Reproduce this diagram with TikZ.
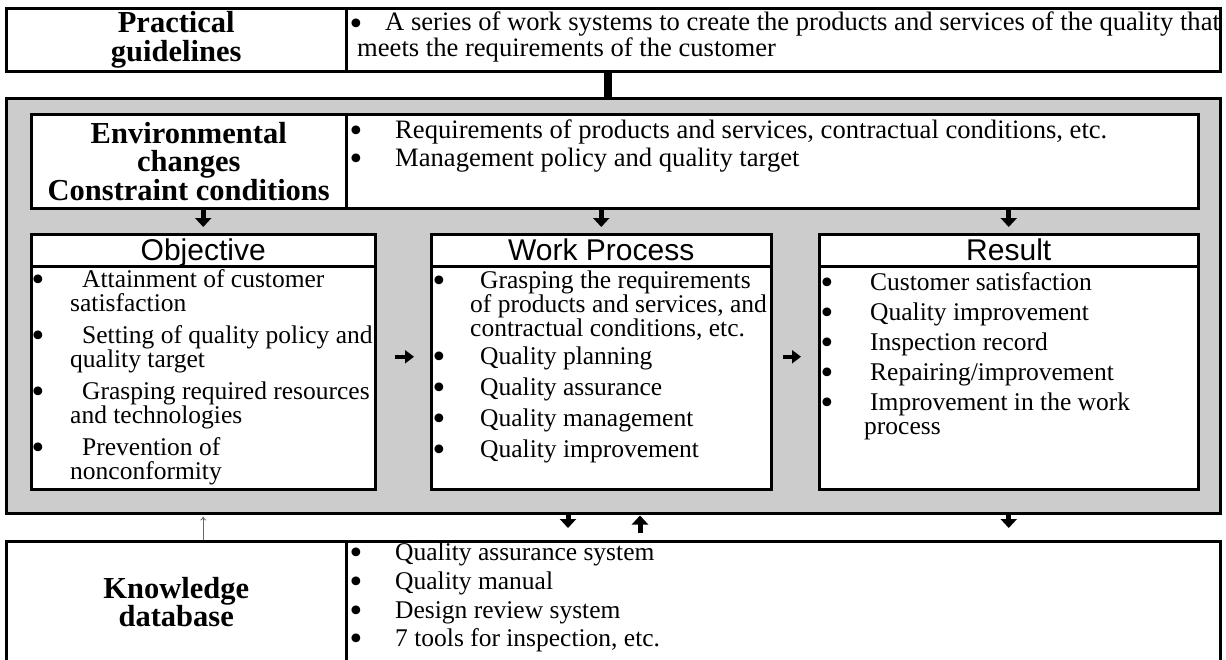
\documentclass[tikz,border=0pt]{standalone}
\usepackage{fontspec}
\setmainfont{Liberation Serif}
\setsansfont{Liberation Sans}
\newfontfamily\dejavu{DejaVu Sans}
\usetikzlibrary{arrows.meta, positioning, calc}

\begin{document}
\begin{tikzpicture}[x=1pt,y=-1pt,
  cell/.style args={#1x#2}{draw,line width=2.5pt,inner sep=0pt,
            minimum width=#1pt,minimum height=#2pt,anchor=north west},
  hd/.style={align=center,font=\fontsize{30.5}{28.5}\selectfont\bfseries},
  ttl/.style={font=\fontsize{30}{30}\selectfont\sffamily,
            text height=21pt,text depth=0pt},
  tx/.style={anchor=base west,inner sep=0pt,align=left,
            font=\fontsize{25.5}{24}\selectfont},
  big/.style={font=\fontsize{26.6}{26}\selectfont},
  bu/.style={anchor=base,inner sep=0pt,yshift=-3pt,
            font=\fontsize{30}{30}\dejavu},
  dn/.style={line width=5pt,-{Triangle[width=16pt,length=9pt]},
            shorten >=6pt},
  rt/.style={line width=3.5pt,-{Triangle[width=13pt,length=9pt]}},
  thn/.style={line width=0.8pt,black!60,-{To[length=4pt,width=6pt]}}
]
\useasboundingbox (0,0) rectangle (1226,659);

% practical guidelines
\node[cell=340x63,hd] (pgL) at (5,7) {Practical\\guidelines};
\node[cell=874x63] (pgR) at (345,7) {};
\node[bu] (pgd) at (356,31) {\textbullet};
\node[tx,big] (pgt) at (357,56)
      {\hspace*{28pt}A series of work systems to create the products and services of the quality that\\meets the requirements of the customer};

% grey frame
\node[cell=1214x415,fill=black!20] (pan) at (5,97) {};
\coordinate (bx) at (608,0);
\draw[line width=8pt] (pgR.south -| bx) -- (pan.north -| bx);

% environment / constraints
\node[cell=315x94,fill=white,hd] (envL) at (30,113)
      {Environmental\\changes\\Constraint conditions};
\node[cell=852x94,fill=white] (envR) at (345,113) {};
\node[bu] (e1d) at (356,138) {\textbullet};
\node[tx,big] (e1) at (395,138)
      {Requirements of products and services, contractual conditions, etc.};
\node[bu] (e2d) at (356,166) {\textbullet};
\node[tx,big] (e2) at (395,166) {Management policy and quality target};

% three columns
\node[cell=344x32,fill=white,ttl] (objT) at (30,233) {Objective};
\node[cell=344x223,fill=white] (objB) at (30,265) {};
\node[cell=340x32,fill=white,ttl] (wpT) at (430,233) {Work Process};
\node[cell=340x223,fill=white] (wpB) at (430,265) {};
\node[cell=379x32,fill=white,ttl] (resT) at (818,233) {Result};
\node[cell=379x223,fill=white] (resB) at (818,265) {};

% objective (base = last line)
\node[bu] (o1d) at (38,287) {\textbullet};
\node[tx] (o1) at (70,311) {\hspace*{12pt}Attainment of customer\\satisfaction};
\node[bu] (o2d) at (38,343) {\textbullet};
\node[tx] (o2) at (70,367) {\hspace*{12pt}Setting of quality policy and\\quality target};
\node[bu] (o3d) at (38,399) {\textbullet};
\node[tx] (o3) at (70,423) {\hspace*{12pt}Grasping required resources\\and technologies};
\node[bu] (o4d) at (38,455) {\textbullet};
\node[tx] (o4) at (70,479) {\hspace*{12pt}Prevention of\\nonconformity};

% work process
\node[bu] (w1d) at (439,288) {\textbullet};
\node[tx] (w1) at (470,336) {\hspace*{10pt}Grasping the requirements\\of products and services, and\\contractual conditions, etc.};
\node[bu] (w2d) at (439,364) {\textbullet};
\node[tx] (w2) at (480,364) {Quality planning};
\node[bu] (w3d) at (439,395) {\textbullet};
\node[tx] (w3) at (480,395) {Quality assurance};
\node[bu] (w4d) at (439,426) {\textbullet};
\node[tx] (w4) at (480,426) {Quality management};
\node[bu] (w5d) at (439,457) {\textbullet};
\node[tx] (w5) at (480,457) {Quality improvement};

% result
\node[bu] (r1d) at (827,290) {\textbullet};
\node[tx] (r1) at (870,290) {Customer satisfaction};
\node[bu] (r2d) at (827,320) {\textbullet};
\node[tx] (r2) at (870,320) {Quality improvement};
\node[bu] (r3d) at (827,350) {\textbullet};
\node[tx] (r3) at (870,350) {Inspection record};
\node[bu] (r4d) at (827,380) {\textbullet};
\node[tx] (r4) at (870,380) {Repairing/improvement};
\node[bu] (r5d) at (827,410) {\textbullet};
\node[tx] (r5) at (864,434) {\hspace*{6pt}Improvement in the work\\process};

% knowledge database
\node[cell=340x122,hd] (kbL) at (5,540) {Knowledge\\database};
\node[cell=874x122] (kbR) at (345,540) {};
\node[bu] (k1d) at (356,560) {\textbullet};
\node[tx] (k1) at (395,560) {Quality assurance system};
\node[bu] (k2d) at (356,589) {\textbullet};
\node[tx] (k2) at (395,589) {Quality manual};
\node[bu] (k3d) at (356,618) {\textbullet};
\node[tx] (k3) at (395,618) {Design review system};
\node[bu] (k4d) at (356,646) {\textbullet};
\node[tx] (k4) at (395,646) {7 tools for inspection, etc.};

% arrows into the columns
\draw[dn] (envL.south -| objT.north) -- (objT.north);
\draw[dn] (envR.south -| wpT.north) -- (wpT.north);
\draw[dn] (envR.south -| resT.north) -- (resT.north);

% arrows between columns
\draw[rt,shorten <=18pt,shorten >=16pt]
      ([yshift=21pt]objB.east) -- ([yshift=21pt]wpB.west);
\draw[rt,shorten <=10pt,shorten >=17pt]
      ([yshift=21pt]wpB.east) -- ([yshift=21pt]resB.west);

% arrows to / from the database
\coordinate (ka) at (568,0);
\coordinate (kc) at (640,0);
\draw[thn,shorten >=2pt] (kbL.north -| objT.north) -- (pan.south -| objT.north);
\draw[dn,shorten >=12pt] (pan.south -| ka) -- (kbR.north -| ka);
\draw[dn,shorten <=7pt,shorten >=1pt] (kbR.north -| kc) -- (pan.south -| kc);
\draw[dn,shorten >=12pt] (pan.south -| resT.north) -- (kbR.north -| resT.north);

\end{tikzpicture}
\end{document}
